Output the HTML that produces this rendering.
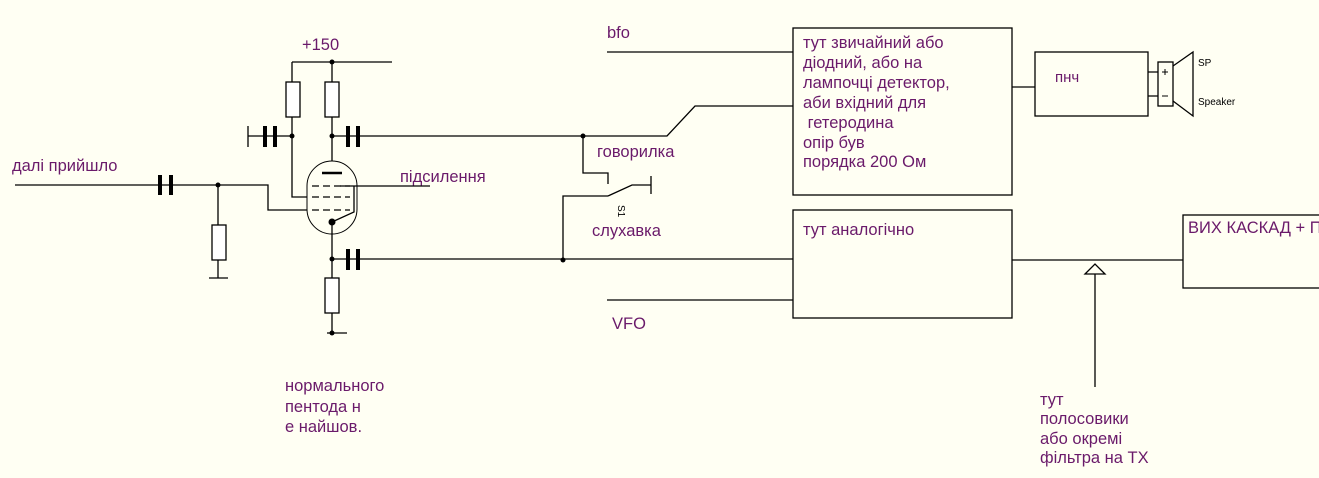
<!DOCTYPE html>
<html><head><meta charset="utf-8"><style>
html,body{margin:0;padding:0;background:#fffff3;}
svg{display:block}
text{font-family:"Liberation Sans","DejaVu Sans",sans-serif;fill:#6a1a6a;font-size:16.5px;white-space:pre}
</style></head><body>
<svg width="1319" height="478" viewBox="0 0 1319 478" xmlns="http://www.w3.org/2000/svg">
<rect width="1319" height="478" fill="#fffff3"/>
<g stroke="#000" stroke-width="1.3" fill="none">
<path d="M15 185H268V210H312"/>
<path d="M218 185V225M218 260V278M209 278H228"/>
<rect x="212" y="225" width="14" height="35" fill="#fff"/>
<path d="M292 62H392M292 62V82M332 62V82M292 117V197H312M332 117V161"/>
<rect x="286" y="82" width="14" height="35" fill="#fff"/>
<rect x="325" y="82" width="14" height="35" fill="#fff"/>
<path d="M248 126V147M248 136H292"/>
<path d="M332 136H583"/>
<rect x="307" y="161" width="50" height="73" rx="25" ry="25" stroke-width="1" fill="#fffff3"/>
<path d="M322 173H342" stroke-width="2.5"/>
<path d="M312 186H350M312 197H350M312 210H350" stroke-dasharray="7,4"/>
<path d="M340 186H430M350 186H354V212L332 222"/>
<path d="M332 222V278M332 313V333M327 333H347"/>
<rect x="325" y="278" width="14" height="35" fill="#fff"/>
<path d="M332 259H793"/>
<path d="M583 136V173H608V184M608 196L632 185H651M651 176V194"/>
<path d="M563 260V196H580L608 196"/>
<path d="M583 136H667L695 106H793M607 52H793M607 300H793"/>
<rect x="793" y="28" width="219" height="167"/>
<rect x="793" y="210" width="219" height="108"/>
<path d="M1012 87H1035"/>
<rect x="1035" y="52" width="113" height="64"/>
<path d="M1148 72H1158M1148 96H1158"/>
<rect x="1158" y="62" width="15" height="44"/>
<path d="M1173 66L1193 52V116L1173 101"/>
<path d="M1012 260H1183M1095 274V387"/>
<path d="M1085 274L1095 264L1105 274Z" fill="#fffff3"/>
<rect x="1183" y="215" width="150" height="73"/>
</g>
<g fill="#000">
<circle cx="332" cy="62" r="2.5"/>
<circle cx="292" cy="136" r="2.5"/><circle cx="332" cy="136" r="2.5"/>
<circle cx="218" cy="185" r="2.5"/><circle cx="332" cy="222" r="3.5"/>
<circle cx="332" cy="259" r="2.5"/><circle cx="332" cy="333" r="2.5"/>
<circle cx="583" cy="136" r="2.5"/><circle cx="563" cy="260" r="2.5"/>
<rect x="158" y="175" width="4" height="20"/><rect x="169" y="175" width="4" height="20"/>
<rect x="263" y="126" width="4" height="21"/><rect x="273" y="126" width="4" height="21"/>
<rect x="346" y="126" width="4" height="21"/><rect x="356" y="126" width="4" height="21"/>
<rect x="346" y="249" width="4" height="21"/><rect x="356" y="249" width="4" height="21"/>
</g>
<g stroke="#000" stroke-width="1" fill="none"><path d="M1162 72H1168M1165 69V75M1162 96H1168"/></g>
<text x="302" y="50">+150</text>
<text x="12" y="171">далі прийшло</text>
<text x="400" y="182">підсилення</text>
<text x="597" y="157">говорилка</text>
<text x="592" y="236">слухавка</text>
<text x="0" y="0" transform="translate(618,205) rotate(90)" style="font-size:10px;fill:#000">S1</text>
<text x="607" y="38">bfo</text>
<text x="612" y="329">VFO</text>
<text x="803" y="48">тут звичайний або</text>
<text x="803" y="68">діодний, або на</text>
<text x="803" y="88">лампочці детектор,</text>
<text x="803" y="108">аби вхідний для</text>
<text x="803" y="128"> гетеродина</text>
<text x="803" y="148">опір був</text>
<text x="803" y="167">порядка 200 Ом</text>
<text x="1055" y="82" style="font-size:15px">пнч</text>
<text x="1198" y="66" style="font-size:10px;fill:#000">SP</text>
<text x="1198" y="105" style="font-size:10px;fill:#000">Speaker</text>
<text x="803" y="235">тут аналогічно</text>
<text x="1188" y="233">ВИХ КАСКАД + П</text>
<text x="285" y="391">нормального</text>
<text x="285" y="412">пентода н</text>
<text x="285" y="432">е найшов.</text>
<text x="1040" y="405">тут</text>
<text x="1040" y="424">полосовики</text>
<text x="1040" y="444">або окремі</text>
<text x="1040" y="463">фільтра на TX</text>
</svg>
</body></html>
